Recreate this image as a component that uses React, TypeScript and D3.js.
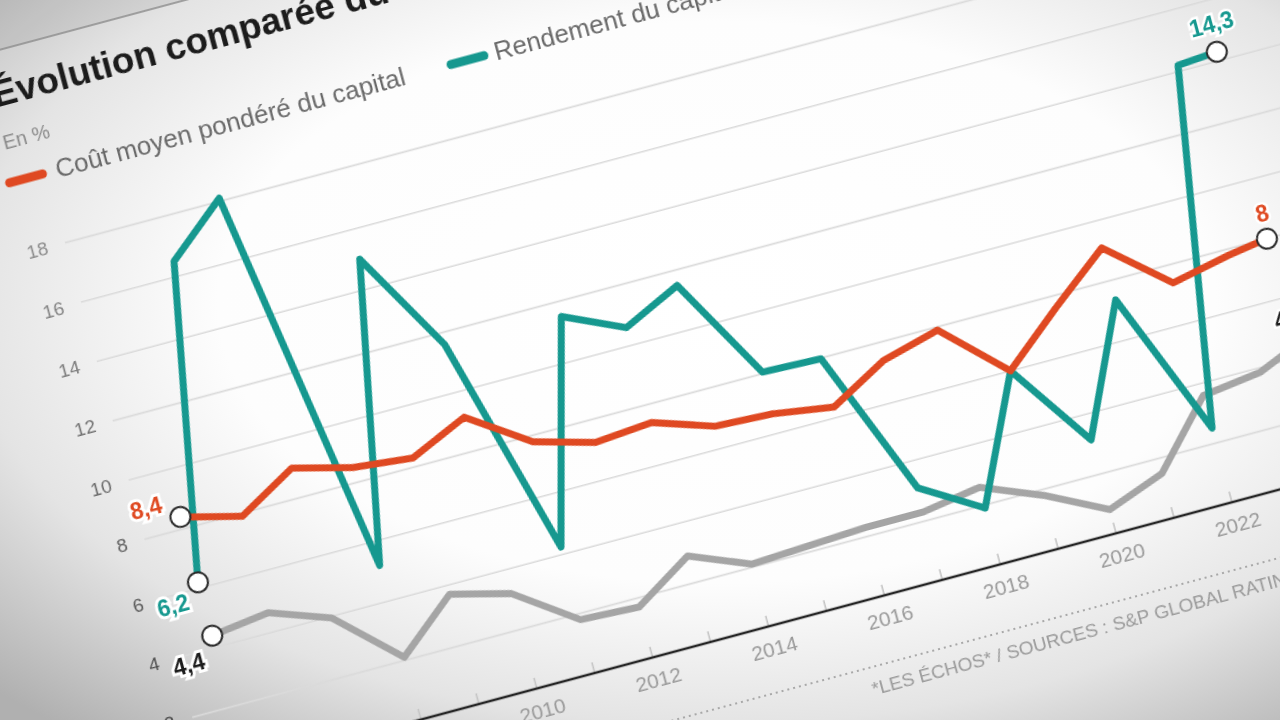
import React from "react";
import * as d3 from "d3";

// ---------- data ----------
const years = [2005, 2006, 2007, 2008, 2009, 2010, 2011, 2012, 2013, 2014, 2015, 2016, 2017, 2018, 2019, 2020, 2021, 2022, 2023, 2024];
const cmpc = [8.4, 7.9, 9.0, 8.5, 8.3, 9.15, 7.8, 7.25, 7.4, 6.75, 6.65, 6.35, 7.4, 7.9, 6.0, 7.6, 9.1, 7.4, 7.8, 8.0];
const rendement = [6.2, 16.5, 18.1, 5.2, 15.0, 11.6, 4.25, 11.5, 10.6, 11.5, 8.05, 7.98, 3.1, 1.9, 6.0, 3.15, 7.35, 2.5, 14.2, 14.3];
const troisieme = [4.4, 4.65, 3.95, 2.1, 3.7, 3.2, 1.8, 1.7, 2.9, 2.1, 2.2, 2.3, 2.3, 2.6, 1.8, 0.8, 1.5, 3.6, 3.85, 4.4];
const yTicks = [2, 4, 6, 8, 10, 12, 14, 16, 18];
const xLabelYears = [2006, 2008, 2010, 2012, 2014, 2016, 2018, 2020, 2022, 2024];
const startLabels = ["8,4", "6,2", "4,4"];
const endLabels = ["8", "14,3", "4,4"];
const title = "Évolution comparée du";
const subtitle = "En %";
const legendLabels = ["Coût moyen pondéré du capital", "Rendement du capital"];
const source = "*LES ÉCHOS* / SOURCES : S&P GLOBAL RATINGS";

const ORANGE = "#df4a20";
const TEAL = "#14988f";
const GREY = "#a5a5a5";
const FONT = "'Liberation Sans', Arial, sans-serif";

export default function App() {
  const W = 1280;
  const H = 720;

  const x = d3.scaleLinear().domain([2005, 2022, 2023, 2024]).range([40.5, 1060, 1121, 1162]);
  const y = d3.scaleLinear().domain([0, 20]).range([804, 190]);
  const tickColor = d3.scaleLinear<string>().domain([2, 18]).range(["#474747", "#8c8c8c"]);

  const lineGen = d3
    .line<number>()
    .x((_, i) => x(years[i]))
    .y((d) => y(d));

  const series = [
    { key: "grey", values: troisieme, color: GREY, labelColor: "#1d1d1d", start: startLabels[2], end: endLabels[2], sdx: -14, sdy: 30, edy: -20 },
    { key: "teal", values: rendement, color: TEAL, labelColor: TEAL, start: startLabels[1], end: endLabels[1], sdx: -14, sdy: 24, edy: -20 },
    { key: "orange", values: cmpc, color: ORANGE, labelColor: ORANGE, start: startLabels[0], end: endLabels[0], sdx: -15, sdy: -9, edy: -17 },
  ];

  const y0 = y(0);
  const last = years.length - 1;

  return (
    <svg
      width={W}
      height={H}
      viewBox={`0 0 ${W} ${H}`}
      style={{ position: "absolute", left: 0, top: 0, display: "block" }}
      fontFamily={FONT}
    >
      <defs>
        <radialGradient id="vig" cx="0.56" cy="0.42" r="0.78">
          <stop offset="0" stopColor="#ffffff" />
          <stop offset="0.5" stopColor="#fdfdfd" />
          <stop offset="0.75" stopColor="#e4e4e4" />
          <stop offset="1" stopColor="#b0b0b0" />
        </radialGradient>
        <filter id="soft" x="-10%" y="-10%" width="120%" height="120%">
          <feGaussianBlur stdDeviation="0.6" />
        </filter>
      </defs>
      <rect x={0} y={0} width={W} height={H} fill="url(#vig)" />

      <g transform="rotate(-15)" filter="url(#soft)">
        {/* header band + rule */}
        <rect x={-200} y={-400} width={1000} height={448} fill="#000" opacity={0.06} />
        <line x1={-200} x2={800} y1={48} y2={48} stroke="#8a8a8a" strokeWidth={1.6} />

        {/* title */}
        <text x={-32} y={103} fontSize={37} fontWeight={700} fill="#1c1c1c">
          {title}
        </text>
        <text x={-34} y={146} fontSize={20} fill="#8a8a8a">
          {subtitle}
        </text>

        {/* legend */}
        <line x1={-38} x2={-4} y1={179} y2={179} stroke={ORANGE} strokeWidth={9} strokeLinecap="round" />
        <text x={10} y={187} fontSize={26} fill="#6a6a6a">
          {legendLabels[0]}
        </text>
        <line x1={419} x2={453} y1={179} y2={179} stroke={TEAL} strokeWidth={9} strokeLinecap="round" />
        <text x={464} y={187} fontSize={26} fill="#6a6a6a">
          {legendLabels[1]}
        </text>

        {/* grid */}
        {yTicks.map((v) => (
          <line key={`g${v}`} x1={0} x2={1260} y1={y(v)} y2={y(v)} stroke="#dadada" strokeWidth={1.6} />
        ))}
        {yTicks.map((v) => (
          <text key={`yl${v}`} x={-18} y={y(v)} dy="0.36em" textAnchor="end" fontSize={19} fill={tickColor(v)}>
            {v}
          </text>
        ))}

        {/* x axis */}
        {years.map((yr) => (
          <line key={`t${yr}`} x1={x(yr)} x2={x(yr)} y1={y0} y2={y0 - 11} stroke="#c4c4c4" strokeWidth={1.6} />
        ))}
        <line x1={-20} x2={1200} y1={y0} y2={y0} stroke="#262626" strokeWidth={2.6} />
        {xLabelYears.map((yr) => (
          <text key={`xl${yr}`} x={x(yr)} y={y0 + 30} textAnchor="middle" fontSize={21} fill="#9a9a9a">
            {yr}
          </text>
        ))}

        {/* source */}
        <line x1={-60} x2={1400} y1={y0 + 66} y2={y0 + 66} stroke="#a8a8a8" strokeWidth={2} strokeDasharray="2 4" />
        <text x={664} y={y0 + 94} fontSize={19} fill="#9a9a9a">
          {source}
        </text>

        {/* lines */}
        {series.map((s) => (
          <path
            key={s.key}
            d={lineGen(s.values) || ""}
            fill="none"
            stroke={s.color}
            strokeWidth={7}
            strokeLinejoin="round"
            strokeLinecap="butt"
          />
        ))}

        {/* end markers + labels */}
        {series.map((s) => (
          <g key={`m${s.key}`}>
            <circle cx={x(years[0])} cy={y(s.values[0])} r={10} fill="#fff" stroke="#2a2a2a" strokeWidth={2} />
            <circle cx={x(years[last])} cy={y(s.values[last])} r={10} fill="#fff" stroke="#2a2a2a" strokeWidth={2} />
            <text
              x={x(years[0]) + s.sdx}
              y={y(s.values[0]) + s.sdy}
              textAnchor="end"
              fontSize={23}
              fontWeight={700}
              fill={s.labelColor}
              stroke="#fff"
              strokeWidth={6}
              paintOrder="stroke"
            >
              {s.start}
            </text>
            <text
              x={x(years[last]) + 2}
              y={y(s.values[last]) + s.edy}
              textAnchor="middle"
              fontSize={23}
              fontWeight={700}
              fill={s.labelColor}
              stroke="#fff"
              strokeWidth={5}
              paintOrder="stroke"
            >
              {s.end}
            </text>
          </g>
        ))}
      </g>
    </svg>
  );
}
